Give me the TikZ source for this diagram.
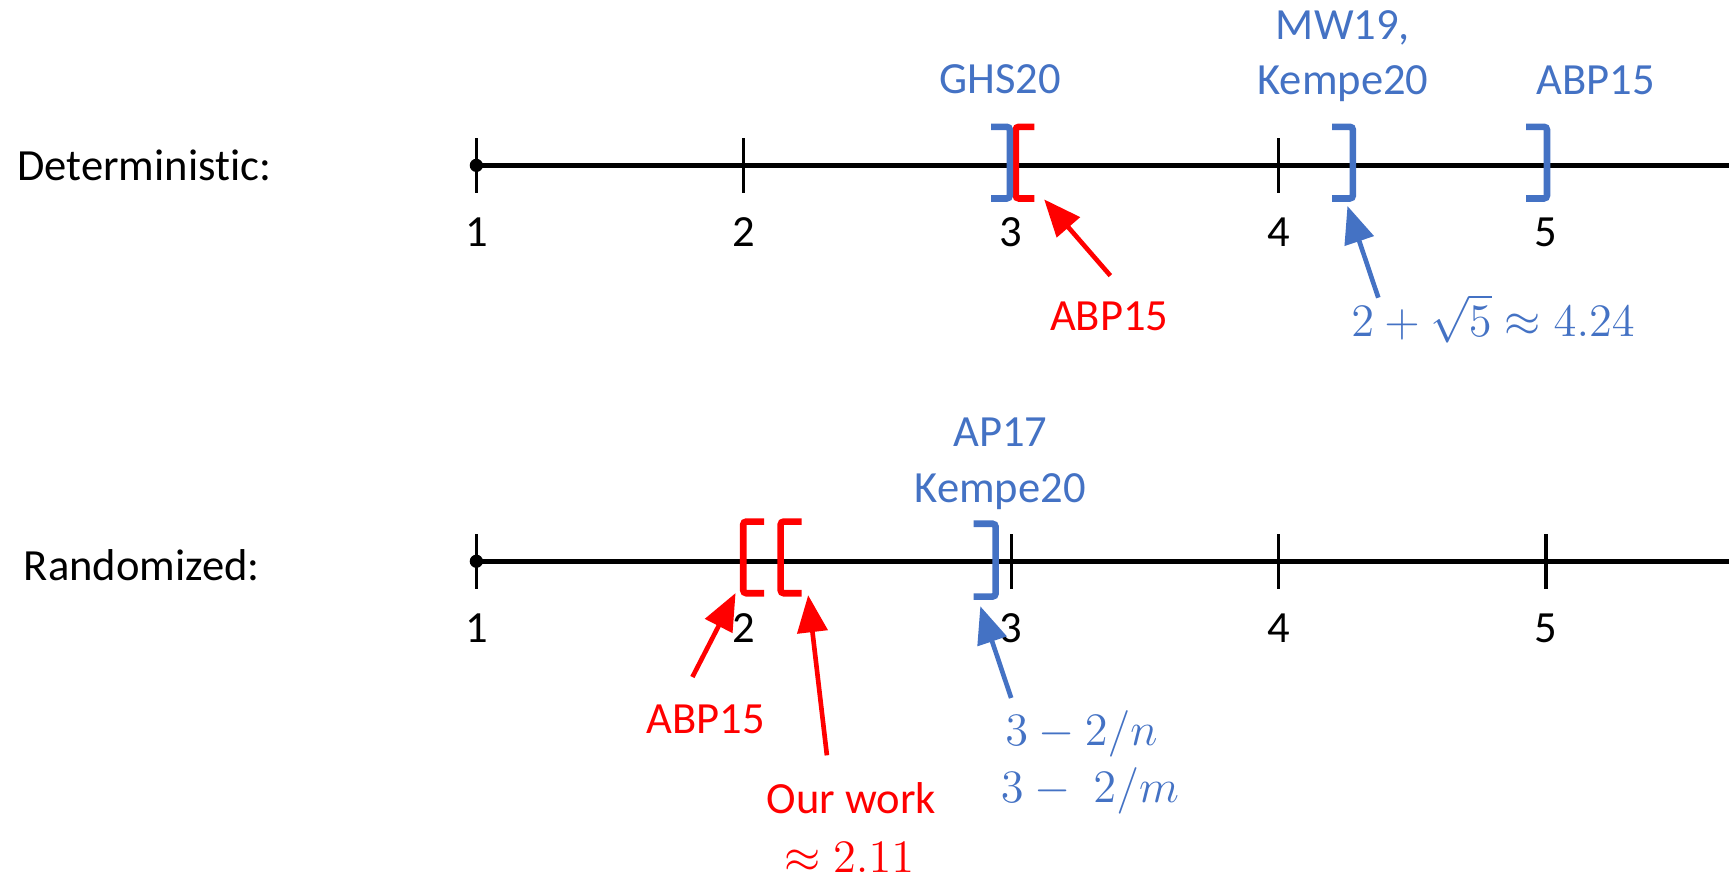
\documentclass[tikz,border=0pt]{standalone}
\usepackage[no-math]{fontspec}
\setmainfont{Carlito}[Ligatures=NoCommon]
\usetikzlibrary{arrows}
\definecolor{refblue}{HTML}{4472C4}
\definecolor{refred}{HTML}{FF0000}

\begin{document}
\begin{tikzpicture}[x=2.425cm,y=1cm,
	axisline/.style={line width=1.2pt},
	tickmark/.style={line width=0.8pt},
	brk/.style={line width=1.7pt, rounded corners=0.8pt},
	lbl/.style={font=\fontsize{11.5}{13}\selectfont, inner sep=0pt, anchor=base},
	mth/.style={font=\fontsize{13}{15}\selectfont, inner sep=0pt, anchor=base},
	ptr/.style={line width=1.2pt, -triangle 45}]
	\useasboundingbox (-0.7814,0) rectangle (5.6845,7.94);
	% row names
	\node[lbl, anchor=base west] (det) at (-0.7196,6.30) {Deterministic:};
	\node[lbl, anchor=base west] (rnd) at (-0.695,2.68) {Randomized:};
	% deterministic axis
	\coordinate (d1) at (1,6.44);
	\coordinate (dend) at (5.83,6.44);
	\draw[axisline, -triangle 45] (d1) -- (dend);
	\draw[tickmark] (1,6.19) -- (1,6.69);
	\draw[tickmark] (2,6.19) -- (2,6.69);
	\draw[tickmark] (3,6.19) -- (3,6.69);
	\draw[tickmark] (4,6.19) -- (4,6.69);
	\draw[tickmark] (5,6.19) -- (5,6.69);
	\fill (d1) circle[radius=0.06cm];
	\node[lbl] (dl1) at (1,5.70) {1};
	\node[lbl] (dl2) at (2,5.70) {2};
	\node[lbl] (dl3) at (3,5.70) {3};
	\node[lbl] (dl4) at (4,5.70) {4};
	\node[lbl] (dl5) at (5,5.70) {5};
	% randomized axis
	\coordinate (r1) at (1,2.85);
	\coordinate (rend) at (5.83,2.85);
	\draw[axisline, -triangle 45] (r1) -- (rend);
	\draw[tickmark] (1,2.60) -- (1,3.10);
	\draw[tickmark] (2,2.60) -- (2,3.10);
	\draw[tickmark] (3,2.60) -- (3,3.10);
	\draw[tickmark] (4,2.60) -- (4,3.10);
	\draw[tickmark] (5,2.60) -- (5,3.10);
	\fill (r1) circle[radius=0.06cm];
	\node[lbl] (rl1) at (1,2.11) {1};
	\node[lbl] (rl2) at (2,2.11) {2};
	\node[lbl] (rl3) at (3,2.11) {3};
	\node[lbl] (rl4) at (4,2.11) {4};
	\node[lbl] (rl5) at (5,2.11) {5};
	% brackets, deterministic
	\draw[brk, refred] (3.087,6.79) -- (3.017,6.79) -- (3.017,6.14) -- (3.087,6.14);
	\draw[brk, refblue] (2.925,6.79) -- (2.995,6.79) -- (2.995,6.14) -- (2.925,6.14);
	\draw[brk, refblue] (4.200,6.79) -- (4.278,6.79) -- (4.278,6.14) -- (4.200,6.14);
	\draw[brk, refblue] (4.926,6.79) -- (5.004,6.79) -- (5.004,6.14) -- (4.926,6.14);
	% brackets, randomized
	\draw[brk, refred] (2.076,3.21) -- (1.998,3.21) -- (1.998,2.56) -- (2.076,2.56);
	\draw[brk, refred] (2.216,3.21) -- (2.138,3.21) -- (2.138,2.56) -- (2.216,2.56);
	\draw[brk, refblue] (2.860,3.19) -- (2.942,3.19) -- (2.942,2.53) -- (2.860,2.53);
	% labels, deterministic
	\node[lbl, refblue] (ghs) at (2.959,7.09) {GHS20};
	\node[lbl, refblue] (mw) at (4.241,7.58) {MW19,};
	\node[lbl, refblue] (kdet) at (4.241,7.08) {Kempe20};
	\node[lbl, refblue] (abpdet) at (5.186,7.08) {ABP15};
	\node[lbl, refred] (abplow) at (3.367,4.94) {ABP15};
	\node[mth, refblue] (sqrtval) at (4.802,4.89) {$2+\sqrt{5}\approx 4.24$};
	% labels, randomized
	\node[lbl, refblue] (ap) at (2.959,3.89) {AP17};
	\node[lbl, refblue] (krnd) at (2.959,3.38) {Kempe20};
	\node[lbl, refred] (abprnd) at (1.858,1.29) {ABP15};
	\node[lbl, refred] (ours) at (2.402,0.56) {Our work};
	\node[mth, refred] (oursval) at (2.394,0.03) {$\approx 2.11$};
	\node[mth, refblue, anchor=base west] (bn) at (2.975,1.18) {$3-2/n$};
	\node[mth, refblue, anchor=base west] (bm) at (2.959,0.66) {$3-\;2/m$};
	% pointer ends
	\coordinate (abplowtail) at (3.371,5.44);
	\coordinate (abplowhead) at (3.124,6.13);
	\coordinate (sqrttail) at (4.373,5.24);
	\coordinate (sqrthead) at (4.258,6.07);
	\coordinate (abprndtail) at (1.808,1.80);
	\coordinate (abprndhead) at (1.969,2.56);
	\coordinate (ourstail) at (2.311,1.09);
	\coordinate (ourshead) at (2.241,2.54);
	\coordinate (bntail) at (3.000,1.61);
	\coordinate (bnhead) at (2.885,2.44);
	% pointers
	\draw[ptr, refred] (abplowtail) -- (abplowhead);
	\draw[ptr, refblue] (sqrttail) -- (sqrthead);
	\draw[ptr, refred] (abprndtail) -- (abprndhead);
	\draw[ptr, refred] (ourstail) -- (ourshead);
	\draw[ptr, refblue] (bntail) -- (bnhead);
\end{tikzpicture}
\end{document}
